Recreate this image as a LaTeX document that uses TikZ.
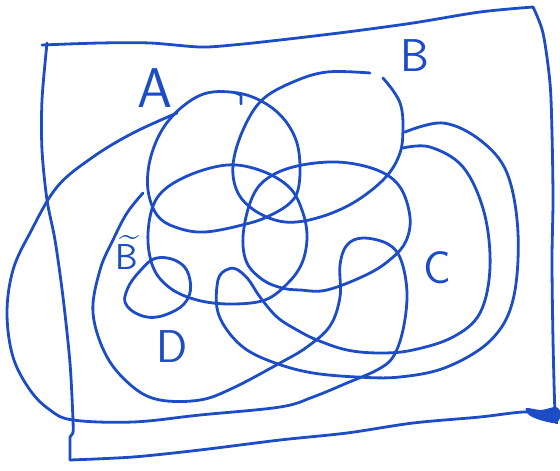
\documentclass[tikz,border=0pt]{standalone}
\usepackage{fontspec}
\usepackage{tikz}
\usetikzlibrary{positioning}
\definecolor{ink}{HTML}{1C4CC6}

\tikzset{
  pen/.style={ink,line width=2.8pt},
  lbl/.style={ink,inner sep=0pt,font=\sffamily},
}

\begin{document}
\begin{tikzpicture}[x=1pt,y=-1pt,line cap=round,line join=round]
  \useasboundingbox (0,0) rectangle (560,471);
  % frame
  \draw[pen] plot[smooth,tension=0.5] coordinates {(42,45) (100,43) (150,43) (200,47) (233,45) (280,40) (347,32) (413,23) (480,12) (533,7)};
  \draw[pen] plot[smooth,tension=0.5] coordinates {(533,7) (543,33) (550,83) (552,133) (553,200) (552,260) (553,340) (555,413) (557,423)};
  \draw[pen] plot[smooth,tension=0.5] coordinates {(70,460) (133,457) (200,450) (280,440) (347,433) (413,423) (480,417) (523,412) (558,413)};
  \draw[pen] plot[smooth,tension=0.5] coordinates {(47,43) (42,100) (42,150) (47,200) (55,240) (63,297) (70,363) (73,420) (73,433)};
  \draw[pen] (73,433) -- (70,437) -- (70,460);
  \fill[ink] plot[smooth cycle] coordinates {(526,408) (541,410) (556,407) (561,414) (556,423) (540,420) (529,415)};
  % A
  \draw[pen] plot[smooth cycle,tension=0.6] coordinates {(238,93) (263,102) (283,118) (296,140) (300,165) (298,190) (290,203) (273,214) (250,223) (205,232) (175,227) (157,215) (148,190) (150,160) (162,130) (182,107) (207,93)};
  \draw[pen] (236,93) -- (241,95) -- (241,104);
  % B
  \draw[pen] plot[smooth,tension=0.6] coordinates {(383,78) (394,92) (401,106) (403,127) (400,153) (385,178) (353,203) (317,218) (285,222) (257,212) (238,193) (233,165) (243,130) (262,100) (293,82) (327,72) (370,73)};
  % middle pair
  \draw[pen] plot[smooth cycle,tension=0.6] coordinates {(148,233) (157,198) (185,177) (227,165) (262,171) (290,188) (303,213) (307,238) (302,263) (288,283) (265,300) (230,304) (197,300) (170,288) (153,267)};
  \draw[pen] plot[smooth cycle,tension=0.6] coordinates {(243,237) (250,203) (264,181) (293,167) (337,162) (377,170) (400,187) (410,217) (406,241) (392,258) (368,274) (327,290) (300,290) (282,288) (263,280) (247,263)};
  % C
  \draw[pen] plot[smooth,tension=0.6] coordinates {(405,132) (443,123) (480,140) (507,173) (518,233) (513,300) (491,340) (447,367) (400,377) (357,377) (313,373) (278,364) (247,350) (227,330) (217,308) (218,280) (226,270) (236,269) (248,279) (260,297) (277,317) (297,330) (317,340) (347,350) (380,353) (413,350) (453,337) (480,313) (490,267) (484,212) (463,167) (430,147) (403,148)};
  % D
  \draw[pen] plot[smooth cycle,tension=0.7] coordinates {(157,258) (180,263) (190,280) (187,300) (170,313) (147,317) (127,306) (127,290) (140,271)};
  % complement of B
  \draw[pen] plot[smooth,tension=0.6] coordinates {(177,113) (133,133) (93,157) (57,187) (30,233) (13,270) (7,313) (13,357) (30,390) (50,410) (73,420) (133,422) (200,415) (280,407) (313,397) (347,383) (377,370) (393,357) (403,330) (407,293) (401,260) (388,244) (363,238) (347,245) (340,265) (340,297) (330,326) (307,347) (280,363) (233,388) (200,400) (160,400) (133,387) (107,357) (93,313) (100,270) (113,240) (127,213) (143,193)};
  % labels
  \node[lbl,font=\sffamily\fontsize{56}{60}\selectfont] (labA) at (155,88) {A};
  \node[lbl,font=\sffamily\fontsize{46}{48}\selectfont] (labB) at (415,56) {B};
  \node[lbl,font=\sffamily\fontsize{46}{48}\selectfont] (labC) at (437,268) {C};
  \node[lbl,font=\sffamily\fontsize{46}{48}\selectfont] (labD) at (172,347) {D};
  \node[lbl,align=center,font=\sffamily\fontsize{36}{38}\selectfont] (labBt) at (127,252) {\hspace*{6pt}\textasciitilde\\[-15pt]B};
\end{tikzpicture}
\end{document}
